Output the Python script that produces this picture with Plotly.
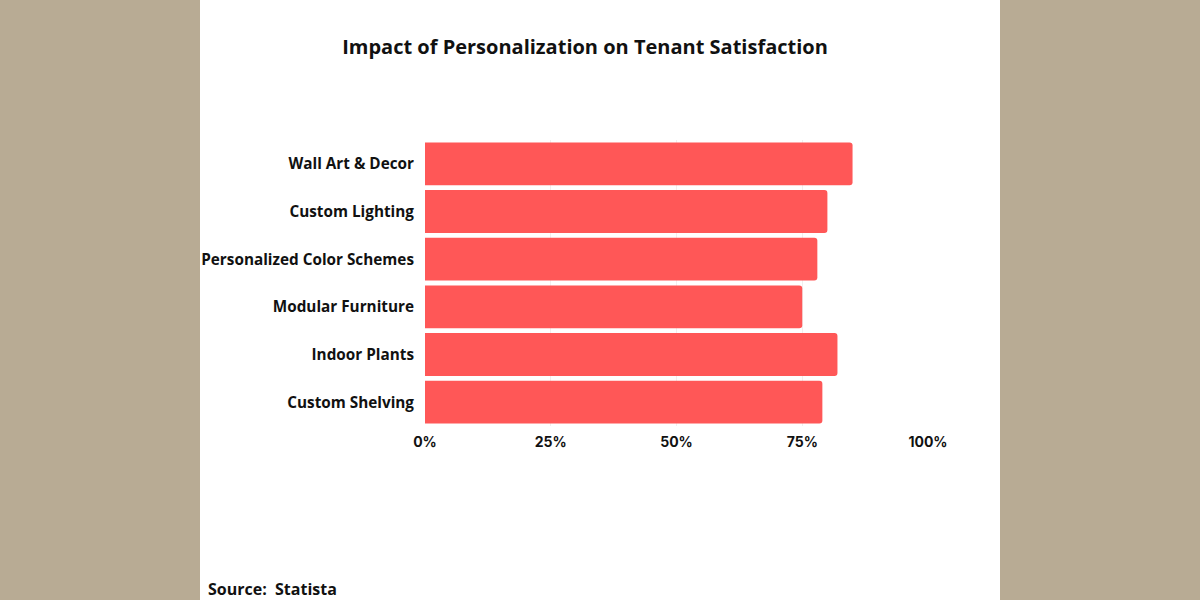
import plotly.graph_objects as go

# Данные (проценты), сверху вниз как на картинке
CATEGORIES = [
    "Wall Art & Decor",
    "Custom Lighting",
    "Personalized Color Schemes",
    "Modular Furniture",
    "Indoor Plants",
    "Custom Shelving",
]
VALUES = [85, 80, 78, 75, 82, 79]
TICK_VALS = [0, 25, 50, 75, 100]
TICK_TEXT = ["0%", "25%", "50%", "75%", "100%"]

TITLE = "Impact of Personalization on Tenant Satisfaction"
SOURCE = "Source:  Statista"

W, H = 1200, 600
M_L, M_R, M_T, M_B = 425, 272, 140, 174
PLOT_W = W - M_L - M_R
PLOT_H = H - M_T - M_B

BG = "#b8ab94"
BAR = "#ff5757"
INK = "#111111"


def px_to_paper_x(x):
    return (x - M_L) / PLOT_W


def px_to_paper_y(y):
    return (H - M_B - y) / PLOT_H


fig = go.Figure(
    go.Bar(
        x=VALUES,
        y=CATEGORIES,
        orientation="h",
        marker=dict(color=BAR, line=dict(width=0), cornerradius=3),
        hovertemplate="%{y}: %{x}%<extra></extra>",
    )
)

# белая панель посередине
fig.add_shape(
    type="rect", xref="paper", yref="paper",
    x0=px_to_paper_x(200), x1=px_to_paper_x(1000),
    y0=-2, y1=2,
    fillcolor="white", line=dict(width=0), layer="below",
)

fig.add_annotation(
    text=SOURCE, xref="paper", yref="paper",
    x=px_to_paper_x(206), y=px_to_paper_y(589),
    xanchor="left", yanchor="middle", showarrow=False,
    font=dict(family="Open Sans", size=16, color=INK, weight="bold"),
)

fig.update_xaxes(
    range=[0, 100],
    tickvals=TICK_VALS,
    ticktext=TICK_TEXT,
    showgrid=True,
    gridcolor="#f2eeee",
    gridwidth=1,
    zeroline=False,
    showline=False,
    ticks="",
    ticklabelstandoff=6,
    tickfont=dict(family="Inter", size=14, color=INK, weight="bold"),
    fixedrange=True,
)
fig.update_yaxes(
    categoryorder="array",
    categoryarray=CATEGORIES[::-1],
    showgrid=False,
    zeroline=False,
    ticks="",
    ticklabelstandoff=10,
    tickfont=dict(family="Open Sans", size=15.3, color=INK, weight="bold"),
    fixedrange=True,
)

fig.update_layout(
    width=W,
    height=H,
    margin=dict(l=M_L, r=M_R, t=M_T, b=M_B),
    paper_bgcolor=BG,
    plot_bgcolor="rgba(0,0,0,0)",
    bargap=0.1,
    showlegend=False,
    title=dict(
        text=TITLE,
        x=585 / W, xref="container", xanchor="center",
        y=1 - 47 / H, yref="container", yanchor="middle",
        font=dict(family="Open Sans", size=20, color=INK, weight="bold"),
    ),
)

# убираем стандартный отступ body, чтобы картинка легла ровно в окно
fig.write_html(
    "out.html",
    config={"displayModeBar": False},
    post_script="document.body.style.margin='0';document.body.style.overflow='hidden';",
)
